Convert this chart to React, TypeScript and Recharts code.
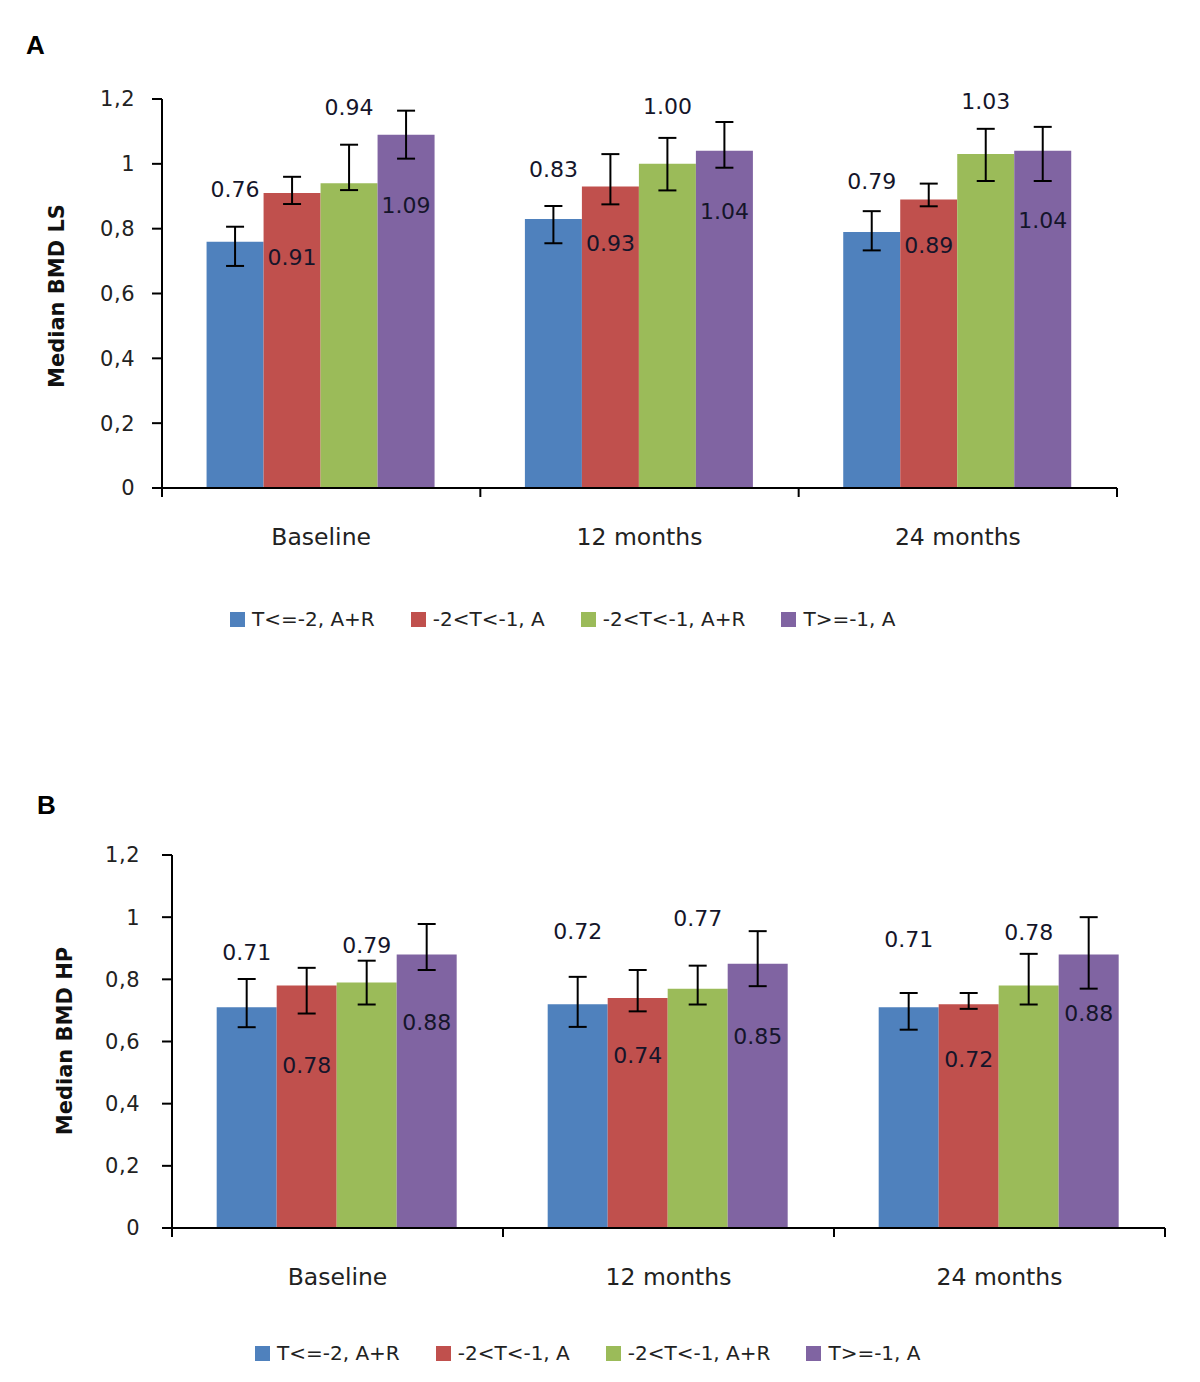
import React from 'react'
import { BarChart, Bar, XAxis, YAxis, ErrorBar, LabelList } from 'recharts'

const categories = ['Baseline', '12 months', '24 months']
const seriesNames = ['T<=-2, A+R', '-2<T<-1, A', '-2<T<-1, A+R', 'T>=-1, A']
const colors = ['#4F81BD', '#C0504D', '#9BBB59', '#8064A2']
const yTicks = [0, 0.2, 0.4, 0.6, 0.8, 1, 1.2]

// panel A: lumbar spine
const lsValues = [
  [0.76, 0.83, 0.79],
  [0.91, 0.93, 0.89],
  [0.94, 1.0, 1.03],
  [1.09, 1.04, 1.04],
]
const lsErrLow = [
  [0.075, 0.075, 0.057],
  [0.034, 0.055, 0.021],
  [0.021, 0.082, 0.083],
  [0.074, 0.052, 0.093],
]
const lsErrHigh = [
  [0.046, 0.04, 0.064],
  [0.05, 0.1, 0.049],
  [0.119, 0.08, 0.078],
  [0.074, 0.089, 0.074],
]

// panel B: hip
const hpValues = [
  [0.71, 0.72, 0.71],
  [0.78, 0.74, 0.72],
  [0.79, 0.77, 0.78],
  [0.88, 0.85, 0.88],
]
const hpErrLow = [
  [0.064, 0.073, 0.072],
  [0.09, 0.043, 0.015],
  [0.071, 0.051, 0.061],
  [0.05, 0.072, 0.11],
]
const hpErrHigh = [
  [0.091, 0.088, 0.046],
  [0.057, 0.09, 0.036],
  [0.07, 0.074, 0.102],
  [0.098, 0.105, 0.12],
]

// label placement relative to bar top (px), hand-placed in the original
const lsLabelDy = [
  [-52, -49, -50],
  [64, 57, 46],
  [-76, -57, -53],
  [71, 61, 70],
]
const hpLabelDy = [
  [-55, -73, -68],
  [80, 58, 55],
  [-37, -70, -53],
  [68, 73, 59],
]

const FONT = '"DejaVu Sans", Verdana, sans-serif'

function buildRows(values: number[][], lo: number[][], hi: number[][]) {
  return categories.map((name, i) => {
    const row: any = { name }
    values.forEach((s, k) => {
      row['s' + k] = s[i]
      row['e' + k] = [lo[k][i], hi[k][i]]
    })
    return row
  })
}

const makeLabel = (dys: number[]) => (props: any) => {
  const { x, y, width, value, index } = props
  return (
    <text
      x={x + width / 2}
      y={y + dys[index]}
      textAnchor="middle"
      dominantBaseline="central"
      fontSize={22}
      fontFamily={FONT}
      fill="#15152a"
    >
      {Number(value).toFixed(2)}
    </text>
  )
}

// category label plus Excel-style tick marks between categories
const CatTick = (props: any) => {
  const { x, y, payload, width, visibleTicksCount, index } = props
  const band = width && visibleTicksCount ? width / visibleTicksCount : 0
  return (
    <g>
      {band > 0 && <line x1={x - band / 2} x2={x - band / 2} y1={y} y2={y + 9} stroke="#000" strokeWidth={2} />}
      {band > 0 && index === visibleTicksCount - 1 && (
        <line x1={x + band / 2} x2={x + band / 2} y1={y} y2={y + 9} stroke="#000" strokeWidth={2} />
      )}
      <text x={x} y={y + 49} textAnchor="middle" dominantBaseline="central" fontSize={23.5} fontFamily={FONT} fill="#222">
        {payload.value}
      </text>
    </g>
  )
}

const fmt = (v: number) => String(v).replace('.', ',')

interface PanelProps {
  rows: any[]
  labelDy: number[][]
  top: number
  height: number
  marginTop: number
  marginRight: number
  yWidth: number
  tickMargin: number
  gap: string
}

function Panel({ rows, labelDy, top, height, marginTop, marginRight, yWidth, tickMargin, gap }: PanelProps) {
  return (
    <div style={{ position: 'absolute', left: 0, top }}>
      <BarChart
        width={1200}
        height={height}
        data={rows}
        margin={{ top: marginTop, right: marginRight, bottom: 0, left: 0 }}
        barCategoryGap={gap}
        barGap={0}
      >
        <XAxis
          dataKey="name"
          axisLine={{ stroke: '#000', strokeWidth: 2 }}
          tickLine={false}
          tickSize={0}
          tickMargin={0}
          height={72}
          interval={0}
          tick={<CatTick />}
        />
        <YAxis
          domain={[0, 1.2]}
          ticks={yTicks}
          width={yWidth}
          tickFormatter={fmt}
          axisLine={{ stroke: '#000', strokeWidth: 2 }}
          tickLine={{ stroke: '#000', strokeWidth: 2 }}
          tickSize={10}
          tickMargin={tickMargin}
          tick={{ fontSize: 21, fontFamily: FONT, fill: '#222', letterSpacing: 0.5 }}
        />
        {seriesNames.map((n, k) => (
          <Bar key={n} dataKey={'s' + k} name={n} fill={colors[k]} isAnimationActive={false}>
            <ErrorBar dataKey={'e' + k} width={9} stroke="#000" strokeWidth={2} direction="y" />
            <LabelList dataKey={'s' + k} content={makeLabel(labelDy[k])} />
          </Bar>
        ))}
      </BarChart>
    </div>
  )
}

function LegendRow({ left, top }: { left: number; top: number }) {
  return (
    <div style={{ position: 'absolute', left, top, display: 'flex', alignItems: 'center', fontFamily: FONT, fontSize: 20, color: '#222', whiteSpace: 'nowrap' }}>
      {seriesNames.map((n, k) => (
        <div key={n} style={{ display: 'flex', alignItems: 'center', marginRight: 36 }}>
          <span style={{ display: 'inline-block', width: 15, height: 15, background: colors[k], marginRight: 7 }} />
          <span>{n}</span>
        </div>
      ))}
    </div>
  )
}

function YTitle({ text, cx, cy }: { text: string; cx: number; cy: number }) {
  return (
    <div
      style={{
        position: 'absolute',
        left: cx,
        top: cy,
        transform: 'translate(-50%, -50%) rotate(-90deg)',
        fontFamily: FONT,
        fontWeight: 'bold',
        fontSize: 21,
        color: '#111',
        whiteSpace: 'nowrap',
      }}
    >
      {text}
    </div>
  )
}

export default function App() {
  const lsRows = buildRows(lsValues, lsErrLow, lsErrHigh)
  const hpRows = buildRows(hpValues, hpErrLow, hpErrHigh)
  return (
    <div style={{ position: 'absolute', left: 0, top: 0, width: 1200, height: 1382, background: '#fff', overflow: 'hidden' }}>
      <div style={{ position: 'absolute', left: 26, top: 30, fontFamily: '"Liberation Sans", Arial, sans-serif', fontWeight: 'bold', fontSize: 26 }}>A</div>
      <Panel rows={lsRows} labelDy={lsLabelDy} top={0} height={560} marginTop={99} marginRight={83} yWidth={162} tickMargin={17} gap="14%" />
      <YTitle text="Median BMD LS" cx={57} cy={296} />
      <LegendRow left={230} top={607} />

      <div style={{ position: 'absolute', left: 37, top: 790, fontFamily: '"Liberation Sans", Arial, sans-serif', fontWeight: 'bold', fontSize: 26 }}>B</div>
      <Panel rows={hpRows} labelDy={hpLabelDy} top={760} height={540} marginTop={95} marginRight={35} yWidth={172} tickMargin={22} gap="13.5%" />
      <YTitle text="Median BMD HP" cx={65} cy={1041} />
      <LegendRow left={255} top={1341} />
    </div>
  )
}
